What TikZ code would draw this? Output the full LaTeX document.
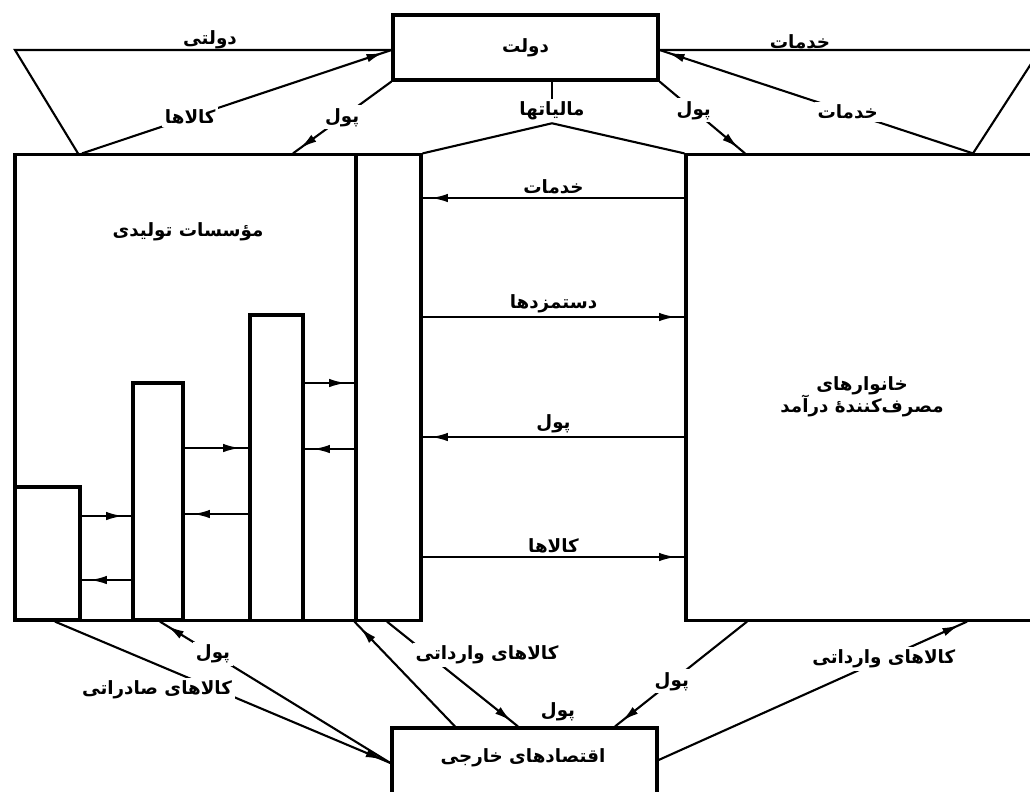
\documentclass[tikz,border=0pt]{standalone}
\usepackage{fontspec}
\usetikzlibrary{arrows.meta,decorations.markings}
\newfontfamily\fafont[Script=Arabic]{DejaVu Sans}
\TeXXeTstate=1
\newcommand{\fa}[1]{{\fafont\bfseries\beginR #1\endR}}

\tikzset{
  box/.style={draw, line width=2.2pt, inner sep=0pt},
  link/.style={line width=1.5pt},
  flow/.style={link, postaction={decorate},
    decoration={markings, mark=at position -6pt with {\arrow{Latex[length=12pt,width=6pt]}}}},
  lbl/.style={font=\fontsize{13}{16}\selectfont, inner sep=2pt},
  gap/.style={lbl, fill=white},
}

\begin{document}
\begin{tikzpicture}[x=0.025cm, y=-0.025cm]
  \useasboundingbox (0,0) rectangle (1030,791);
  \clip (0,0) rectangle (1030,791);

  % the five sectors
  \node[box, minimum width=6.625cm, minimum height=1.625cm] (gov) at (525.5,47.5) {};
  \node[box, minimum width=8.525cm, minimum height=11.625cm] (firms) at (185.5,387.5) {};
  \node[box, minimum width=1.625cm, minimum height=11.625cm] (col) at (388.5,387.5) {};
  \node[box, minimum width=8.85cm, minimum height=11.625cm] (house) at (863,387.5) {};
  \node[box, minimum width=6.625cm, minimum height=2.1cm] (abroad) at (524.5,770) {};

  % bars inside the firms box
  \node[box, minimum width=1.625cm, minimum height=3.325cm] (bar1) at (47.5,553.5) {};
  \node[box, minimum width=1.25cm, minimum height=5.925cm] (bar2) at (158,501.5) {};
  \node[box, minimum width=1.325cm, minimum height=7.625cm] (bar3) at (276.5,467.5) {};

  \node[lbl] (govtext) at (gov) {\fa{دولت}};
  \node[lbl] (firmstext) at (188,232) {\fa{مؤسسات تولیدی}};
  \node[lbl, align=center] (housetext) at (862,397) {\fa{خانوارهای}\\\fa{مصرف‌کنندهٔ درآمد}};
  \node[lbl] (abroadtext) at (523,758) {\fa{اقتصادهای خارجی}};

  % side frames of the government
  \coordinate (tl) at (15,50);
  \coordinate (tr) at (1040,50);
  \draw[link] (78,0 |- firms.north) -- (tl) -- (gov.west |- tl);
  \draw[link] (973,0 |- house.north) -- (tr) -- (gov.east |- tr);
  \node[lbl, anchor=south] (pubtext) at (210,52) {\fa{دولتی}};
  \node[lbl, anchor=south] (servtop) at (800,52) {\fa{خدمات}};

  % flows to and from the government
  \draw[flow] (82,0 |- firms.north) -- (gov.west |- tl) node[gap, pos=0.35] (goodsgov) {\fa{کالاها}};
  \draw[flow] (gov.south west) -- (293,0 |- firms.north) node[gap, midway] (paygov) {\fa{پول}};
  \draw[flow] (973,0 |- house.north) -- (gov.east |- tr) node[gap, pos=0.4] (servgov) {\fa{خدمات}};
  \draw[flow] (gov.south east) -- (745,0 |- house.north) node[gap, pos=0.4] (payhouse) {\fa{پول}};

  % taxes
  \node[lbl] (tax) at (552,111) {\fa{مالیاتها}};
  \draw[link] (tax |- gov.south) -- (tax.north);
  \draw[link] (col.north east) -- (tax.south) -- (house.north west);

  % between firms and households
  \draw[flow] (house.west |- 0,198) -- (col.east |- 0,198) node[lbl, midway, above] (servmid) {\fa{خدمات}};
  \draw[flow] (col.east |- 0,317) -- (house.west |- 0,317) node[lbl, midway, above] (wages) {\fa{دستمزدها}};
  \draw[flow] (house.west |- 0,437) -- (col.east |- 0,437) node[lbl, midway, above] (paymid) {\fa{پول}};
  \draw[flow] (col.east |- 0,557) -- (house.west |- 0,557) node[lbl, midway, above] (goodsmid) {\fa{کالاها}};

  % between the bars
  \draw[flow] (bar1.east |- 0,516) -- (bar2.west |- 0,516);
  \draw[flow] (bar2.west |- 0,580) -- (bar1.east |- 0,580);
  \draw[flow] (bar2.east |- 0,448) -- (bar3.west |- 0,448);
  \draw[flow] (bar3.west |- 0,514) -- (bar2.east |- 0,514);
  \draw[flow] (bar3.east |- 0,383) -- (col.west |- 0,383);
  \draw[flow] (col.west |- 0,449) -- (bar3.east |- 0,449);

  % flows to and from abroad
  \draw[flow] (55,0 |- firms.south) -- (abroad.west |- 0,763);
  \draw[flow] (abroad.west |- 0,763) -- (160,0 |- firms.south) node[gap, pos=0.77] (payexp) {\fa{پول}};
  \draw[flow] (455,0 |- abroad.north) -- (col.south west);
  \draw[flow] (387,0 |- col.south) -- (518,0 |- abroad.north);
  \draw[flow] (747,0 |- house.south) -- (615,0 |- abroad.north) node[gap, pos=0.57] (payimp) {\fa{پول}};
  \draw[flow] (abroad.east |- 0,760) -- (967,0 |- house.south) node[gap, pos=0.73] (impgoods) {\fa{کالاهای وارداتی}};
  \node[gap] (expgoods) at (157,690) {\fa{کالاهای صادراتی}};
  \node[gap] (impfirms) at (487,655) {\fa{کالاهای وارداتی}};
  \node[lbl] (payabroad) at (558,712) {\fa{پول}};
\end{tikzpicture}
\end{document}
